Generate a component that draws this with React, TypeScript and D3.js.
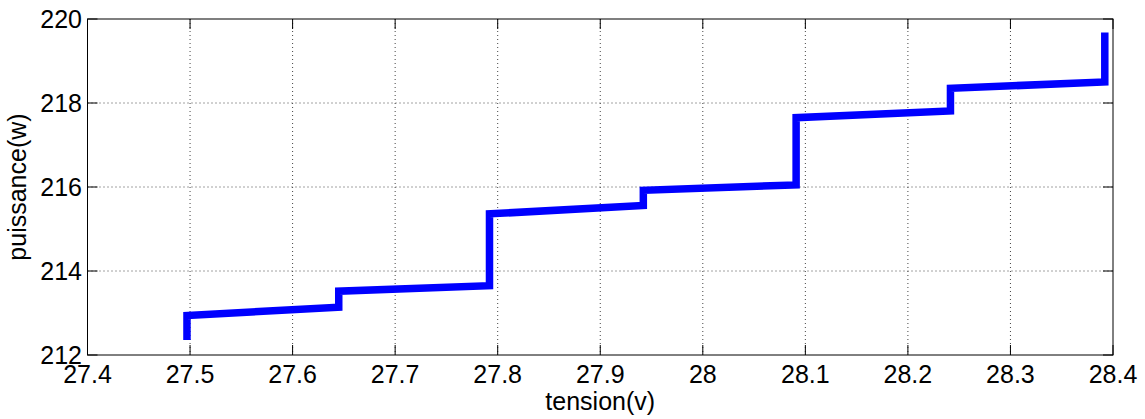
import React from "react";
import * as d3 from "d3";

const tension = [27.497, 27.497, 27.645, 27.645, 27.792, 27.792, 27.942, 27.942, 28.091, 28.091, 28.2415, 28.2415, 28.392, 28.392];
const puissance = [212.36, 212.94, 213.14, 213.52, 213.65, 215.36, 215.56, 215.92, 216.05, 217.65, 217.81, 218.35, 218.5, 219.68];
const xTicks = [27.4, 27.5, 27.6, 27.7, 27.8, 27.9, 28, 28.1, 28.2, 28.3, 28.4];
const yTicks = [212, 214, 216, 218, 220];

const W = 1145, H = 419;
const L = 87.5, R = 1113, T = 19, B = 355;
const FONT = "'Liberation Sans', Arial, sans-serif";

export default function App() {
  const x = d3.scaleLinear().domain([27.4, 28.4]).range([L, R]);
  const y = d3.scaleLinear().domain([212, 220]).range([B, T]);
  const pts: [number, number][] = tension.map((t, i) => [t, puissance[i]]);
  const line = d3.line<[number, number]>().x(d => x(d[0])).y(d => y(d[1]));
  const tick = 10;
  return (
    <svg width={W} height={H} style={{ position: "absolute", left: 0, top: 0, background: "#fff" }}>
      <rect x={0} y={0} width={W} height={H} fill="#fff" />
      {/* grid */}
      {xTicks.slice(1, -1).map(t => (
        <line key={"gx" + t} x1={x(t)} x2={x(t)} y1={T} y2={B} stroke="#444" strokeWidth={1} strokeDasharray="1,3" />
      ))}
      {yTicks.slice(1, -1).map(t => (
        <line key={"gy" + t} x1={L} x2={R} y1={y(t)} y2={y(t)} stroke="#444" strokeWidth={1} strokeDasharray="1,3" />
      ))}
      {/* ticks */}
      {xTicks.map(t => (
        <g key={"tx" + t}>
          <line x1={x(t)} x2={x(t)} y1={B} y2={B - tick} stroke="#000" />
          <line x1={x(t)} x2={x(t)} y1={T} y2={T + tick} stroke="#000" />
          <text x={x(t)} y={383} fontSize={25} fontFamily={FONT} textAnchor="middle" fill="#000">{String(t)}</text>
        </g>
      ))}
      {yTicks.map(t => (
        <g key={"ty" + t}>
          <line x1={L} x2={L + tick} y1={y(t)} y2={y(t)} stroke="#000" />
          <line x1={R} x2={R - tick} y1={y(t)} y2={y(t)} stroke="#000" />
          <text x={82} y={y(t) + 9} fontSize={25} fontFamily={FONT} textAnchor="end" fill="#000">{String(t)}</text>
        </g>
      ))}
      <path d={line(pts) || ""} fill="none" stroke="#0000ff" strokeWidth={7.5} strokeLinejoin="miter" strokeLinecap="butt" />
      <rect x={L} y={T} width={R - L} height={B - T} fill="none" stroke="#000" strokeWidth={1} />
      <text x={(L + R) / 2} y={410} fontSize={25} fontFamily={FONT} textAnchor="middle" fill="#000">tension(v)</text>
      <text transform={`translate(26,${(T + B) / 2}) rotate(-90)`} fontSize={25} fontFamily={FONT} textAnchor="middle" fill="#000">puissance(w)</text>
    </svg>
  );
}
